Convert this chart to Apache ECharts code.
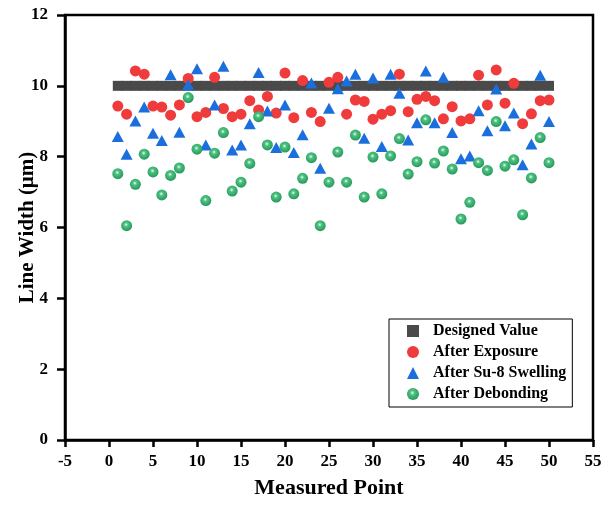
<!DOCTYPE html>
<html>
<head>
<meta charset="utf-8">
<script src="https://cdn.jsdelivr.net/npm/echarts@6/dist/echarts.min.js"></script>
<style>
html,body{margin:0;padding:0;background:#fff;}
#main{width:616px;height:505px;}
</style>
</head>
<body>
<div id="main"></div>
<script>
// measured point index 1..50
const points = Array.from({length: 50}, (_, i) => i + 1)
const designed = points.map(() => 10)
const exposure = [9.43,9.20,10.42,10.33,9.43,9.40,9.17,9.46,10.21,9.13,
    9.25,10.24,9.36,9.13,9.20,9.58,9.32,9.70,9.23,10.36,
    9.10,10.15,9.25,8.99,10.10,10.24,9.20,9.60,9.56,9.06,
    9.20,9.30,10.33,9.27,9.62,9.70,9.58,9.07,9.41,9.01,
    9.07,10.30,9.46,10.45,9.51,10.07,8.93,9.21,9.58,9.60]
const swelling = [8.57,8.07,9.01,9.40,8.66,8.46,10.31,8.69,10.03,10.48,
    8.33,9.46,10.55,8.19,8.33,8.93,10.38,9.29,8.26,9.46,
    8.12,8.62,10.08,7.67,9.37,9.92,10.14,10.33,8.52,10.22,
    8.29,10.33,9.79,8.47,8.96,10.42,8.96,10.24,8.68,7.94,
    8.02,9.30,8.73,9.91,8.87,9.23,7.77,8.36,10.30,8.99]
const debonding = [7.52,6.05,7.22,8.07,7.57,6.92,7.47,7.68,9.67,8.21,
    6.76,8.10,8.68,7.03,7.28,7.81,9.13,8.33,6.86,8.27,
    6.95,7.39,7.97,6.05,7.28,8.13,7.28,8.61,6.86,7.99,
    6.95,8.02,8.51,7.51,7.86,9.04,7.82,8.16,7.65,6.24,
    6.71,7.83,7.61,8.99,7.73,7.91,6.36,7.40,8.54,7.83]
const seriesNames = ['Designed Value','After Exposure','After Su-8 Swelling','After Debonding']

const pairs = arr => arr.map((v, i) => [points[i], v])
const font = 'Liberation Serif'

const greenBall = {
    type: 'radial', x: 0.45, y: 0.4, r: 0.6,
    colorStops: [
        {offset: 0, color: '#f0fff5'},
        {offset: 0.3, color: '#4fc282'},
        {offset: 1, color: '#23985a'}
    ]
}

const chart = echarts.init(document.getElementById('main'))
chart.setOption({
    animation: false,
    backgroundColor: '#fff',
    grid: {
        left: 65, right: 23, top: 15, bottom: 65,
        show: true, borderColor: '#000', borderWidth: 2.5
    },
    legend: {
        orient: 'vertical',
        left: 389, top: 319,
        padding: [4, 6, 5, 18],
        itemGap: 5,
        itemWidth: 12, itemHeight: 12,
        borderColor: '#000', borderWidth: 1,
        textStyle: {fontFamily: font, fontWeight: 'bold', fontSize: 16, lineHeight: 16, color: '#000', padding: [0, 0, 0, 9]},
        data: [
            {name: seriesNames[0], icon: 'rect', itemStyle: {color: '#4a4a4a'}},
            {name: seriesNames[1], icon: 'circle'},
            {name: seriesNames[2], icon: 'triangle'},
            {name: seriesNames[3], icon: 'circle'}
        ]
    },
    xAxis: {
        type: 'value', min: -5, max: 55, interval: 5,
        name: 'Measured Point', nameLocation: 'middle', nameGap: 37,
        nameMoveOverlap: false,
        nameTextStyle: {fontFamily: font, fontWeight: 'bold', fontSize: 22, color: '#000'},
        axisLine: {onZero: false, lineStyle: {color: '#000', width: 2.5}},
        axisTick: {inside: false, length: 7, lineStyle: {color: '#000', width: 2.5}},
        axisLabel: {fontFamily: font, fontWeight: 'bold', fontSize: 17, color: '#000', margin: 13},
        splitLine: {show: false}
    },
    yAxis: {
        type: 'value', min: 0, max: 12, interval: 2,
        name: 'Line Width (μm)', nameLocation: 'middle', nameGap: 27,
        nameMoveOverlap: false,
        nameTextStyle: {fontFamily: font, fontWeight: 'bold', fontSize: 21, color: '#000'},
        axisLine: {onZero: false, lineStyle: {color: '#000', width: 2.5}},
        axisTick: {inside: false, length: 8, lineStyle: {color: '#000', width: 2.5}},
        axisLabel: {fontFamily: font, fontWeight: 'bold', fontSize: 17, color: '#000', margin: 17},
        splitLine: {show: false}
    },
    series: [
        {
            name: seriesNames[0], type: 'scatter', symbol: 'rect', symbolSize: 10,
            itemStyle: {color: '#4a4a4a', opacity: 1},
            data: pairs(designed)
        },
        {
            name: seriesNames[1], type: 'scatter', symbol: 'circle', symbolSize: 11,
            itemStyle: {color: '#ef3b3b', opacity: 1},
            data: pairs(exposure)
        },
        {
            name: seriesNames[2], type: 'scatter', symbol: 'triangle', symbolSize: [12, 11],
            itemStyle: {color: '#1b6fdc', opacity: 1},
            data: pairs(swelling)
        },
        {
            name: seriesNames[3], type: 'scatter', symbol: 'circle', symbolSize: 11,
            itemStyle: {color: greenBall, opacity: 1},
            data: pairs(debonding)
        }
    ]
})
</script>
</body>
</html>
